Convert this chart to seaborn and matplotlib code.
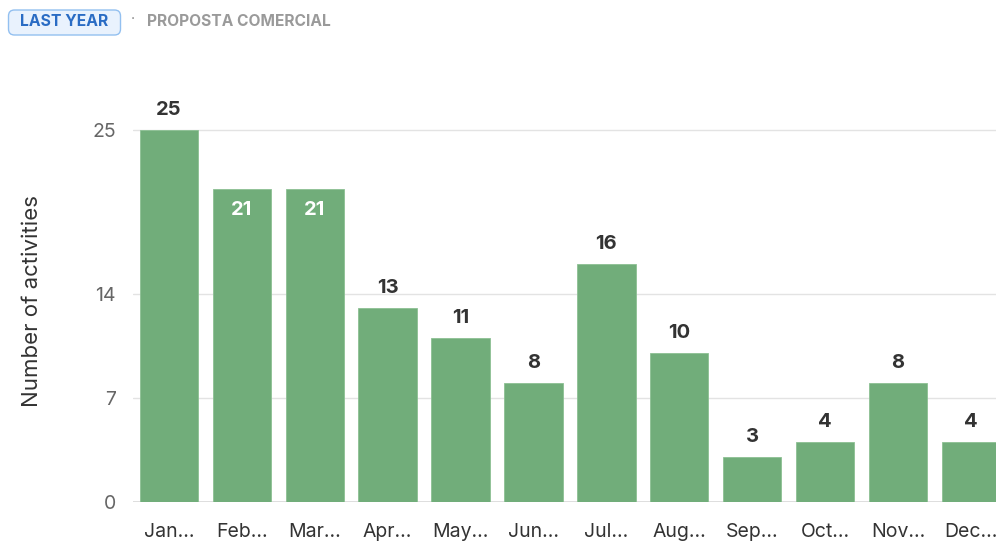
import matplotlib
matplotlib.use("Agg")
import matplotlib.pyplot as plt
import seaborn as sns
import pandas as pd
from matplotlib.patches import FancyBboxPatch

months = ["Jan...", "Feb...", "Mar...", "Apr...", "May...", "Jun...",
          "Jul...", "Aug...", "Sep...", "Oct...", "Nov...", "Dec..."]
values = [25, 21, 21, 13, 11, 8, 16, 10, 3, 4, 8, 4]
yticks = [0, 7, 14, 25]
inside_labels = [False, True, True, False, False, False, False, False, False, False, False, False]

sns.set_theme(style="white")
plt.rcParams['font.family'] = ['Inter', 'DejaVu Sans']

df = pd.DataFrame({"month": months, "value": values})

W, H = 996, 541
fig = plt.figure(figsize=(W / 100, H / 100), dpi=100)
left = 132.5 / W
bottom = (H - 502) / H
ax = fig.add_axes([left, bottom, 1 - left, (502 - 100) / H])

sns.barplot(data=df, x="month", y="value", color="#71ad7a", width=0.8,
            saturation=1, ax=ax, edgecolor="#8cc093", linewidth=0.6, zorder=3)

pitch = 72.9
ax.set_xlim(-0.5, (W - 132.5) / pitch - 0.5)
ax.set_ylim(0, 27)
ax.set_yticks(yticks)
ax.set_yticklabels([str(t) for t in yticks], color="#666666", fontsize=14)
ax.tick_params(axis="y", length=0, pad=12)
ax.tick_params(axis="x", length=0, pad=15, labelsize=14, labelcolor="#333333")
for t in yticks:
    ax.axhline(t, color="#e3e3e3" if t else "#d8d8d8", linewidth=1.2 if t == 0 else 1, zorder=1)
for s in ax.spines.values():
    s.set_visible(False)
ax.set_xlabel("")
ax.set_ylabel("Number of activities", fontsize=16, color="#333333", labelpad=36)

ppu = (502 - 130) / 25.0
for i, (v, inside) in enumerate(zip(values, inside_labels)):
    if inside:
        ax.text(i, v - 21 / ppu, str(v), ha="center", va="center", color="white",
                fontsize=14.5, fontweight="bold", zorder=4)
    else:
        ax.text(i, v + 20 / ppu, str(v), ha="center", va="center", color="#333333",
                fontsize=14.5, fontweight="bold", zorder=4)

# header badge
badge = FancyBboxPatch((8.5 / W, (H - 35) / H), 112 / W, 25 / H,
                       boxstyle="round,pad=0,rounding_size=0.006",
                       mutation_aspect=W / H,
                       transform=fig.transFigure, facecolor="#e9f2fd",
                       edgecolor="#93c0f0", linewidth=1.0)
fig.patches.append(badge)
fig.text(64.5 / W, (H - 22) / H, "LAST YEAR", ha="center", va="center",
         color="#2a6cc4", fontsize=11.3, fontweight="bold")
fig.text(133 / W, (H - 19) / H, "·", ha="center", va="center", color="#888888",
         fontsize=10)
fig.text(147 / W, (H - 22) / H, "PROPOSTA COMERCIAL", ha="left", va="center",
         color="#9a9a9a", fontsize=11.2, fontweight="bold")

fig.savefig("out.png", dpi=100)
